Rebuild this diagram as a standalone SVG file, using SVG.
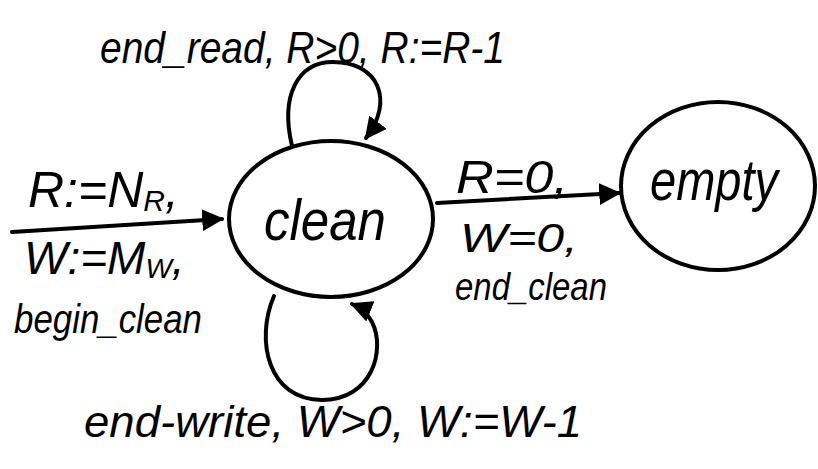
<svg xmlns="http://www.w3.org/2000/svg" width="818" height="469" viewBox="0 0 818 469">
<defs>
<style>
.node{fill:#fff;stroke:#000;stroke-width:4}
.edge{fill:none;stroke:#000;stroke-width:4;stroke-linecap:round}
.t{font-family:"Liberation Sans","DejaVu Sans",sans-serif;fill:#000;font-style:italic}
</style>
<marker id="ah" viewBox="0 0 10 10" refX="9" refY="5" markerWidth="22" markerHeight="22" markerUnits="userSpaceOnUse" orient="auto">
<path d="M0,0 L10,5 L0,10 Z" fill="#000"/>
</marker>
</defs>
<rect width="818" height="469" fill="#fff"/>
<g id="connectors">
<path class="edge" d="M12,232 L222,219" marker-end="url(#ah)"/>
<path class="edge" d="M437,203 L619,193" marker-end="url(#ah)"/>
<path class="edge" d="M292,146 C280,95 298,62 333,62 C378,62 395,100 366,138" marker-end="url(#ah)"/>
<path class="edge" d="M274,296 C255,340 268,400 322,400 C372,400 386,350 372,322 C368,314 362,308 352,304" marker-end="url(#ah)"/>
</g>
<g id="clean">
<ellipse class="node" cx="331" cy="219" rx="102" ry="78"/>
<text class="t" x="264" y="240" font-size="58" textLength="122" lengthAdjust="spacingAndGlyphs">clean</text>
</g>
<g id="empty">
<ellipse class="node" cx="718" cy="186" rx="97" ry="84"/>
<text class="t" x="650" y="200" font-size="58" textLength="128" lengthAdjust="spacingAndGlyphs">empty</text>
</g>
<g id="labels">
<text class="t" x="100" y="63" font-size="44" textLength="405" lengthAdjust="spacingAndGlyphs">end_read, R&gt;0, R:=R-1</text>
<text class="t" x="28" y="207" font-size="50">R:=N<tspan font-size="30" dy="4">R</tspan><tspan dy="-4">,</tspan></text>
<text class="t" x="24" y="274" font-size="46">W:=M<tspan font-size="28" dy="4">W</tspan><tspan dy="-4">,</tspan></text>
<text class="t" x="14" y="333" font-size="40" textLength="188" lengthAdjust="spacingAndGlyphs">begin_clean</text>
<text class="t" x="456" y="193" font-size="46" textLength="112" lengthAdjust="spacingAndGlyphs">R=0,</text>
<text class="t" x="460" y="252" font-size="40" textLength="118" lengthAdjust="spacingAndGlyphs">W=0,</text>
<text class="t" x="455" y="300" font-size="38" textLength="152" lengthAdjust="spacingAndGlyphs">end_clean</text>
<text class="t" x="84" y="437" font-size="44" textLength="498" lengthAdjust="spacingAndGlyphs">end-write, W&gt;0, W:=W-1</text>
</g>
</svg>
